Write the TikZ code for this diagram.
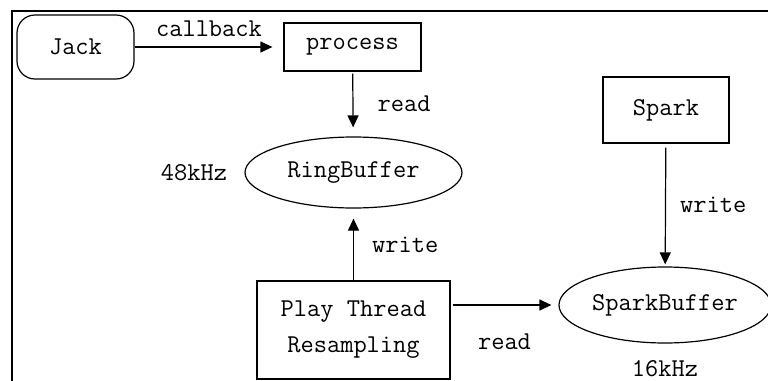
\documentclass[tikz,border=0pt]{standalone}
\usepackage{fontspec}
\usetikzlibrary{arrows.meta,positioning,shapes.geometric}

\begin{document}
\begin{tikzpicture}[
    x=0.5pt, y=-0.5pt,
    font=\ttfamily\fontsize{12.85}{18}\selectfont,
    >={Triangle[length=6pt,width=5.5pt]},
    box/.style={draw, line width=0.6pt, inner sep=0pt, align=center},
    oval/.style={draw, ellipse, line width=0.6pt, inner sep=0pt},
    arr/.style={->, line width=0.6pt},
    lbl/.style={midway, inner sep=0pt}
]
    \useasboundingbox (0,0) rectangle (768,381);
    \draw[line width=1.1pt] (790,11) -| (12,400);

    \node[box, rounded corners=9pt, minimum width=58.5pt, minimum height=32pt] (jack) at (75.5,47) {Jack};
    \node[box, minimum width=68.5pt, minimum height=24pt] (process) at (352.5,47) {process};
    \node[oval, minimum width=108.5pt, minimum height=35.5pt] (ring) at (353.5,172.5) {RingBuffer};
    \node[box, minimum width=96.5pt, minimum height=49pt] (play) at (353.5,330) {Play Thread\\Resampling};
    \node[box, minimum width=63pt, minimum height=33pt] (spark) at (666,110) {Spark};
    \node[oval, minimum width=106pt, minimum height=38pt] (sbuf) at (665,305) {SparkBuffer};
    \node[left=8.5pt of ring, inner sep=0pt] (rate48) {48kHz};
    \node[below=8pt of sbuf, inner sep=0pt] (rate16) {16kHz};

    \draw[arr, shorten >=5.5pt] (jack) -- node[lbl, above=5pt] {callback} (process);
    \draw[arr, shorten <=1pt, shorten >=4.5pt] (process) -- node[lbl, right=12pt] {read} (ring);
    \draw[arr, shorten >=5pt] (play) -- node[lbl, right=9pt] {write} (ring);
    \draw[arr, shorten <=1pt, shorten >=3.5pt] (sbuf.west -| play.east) -- node[lbl, below=14pt] {read} (sbuf.west);
    \draw[arr, shorten <=2pt, shorten >=1pt] (spark) -- node[lbl, right=7pt] {write} (sbuf);
\end{tikzpicture}
\end{document}
